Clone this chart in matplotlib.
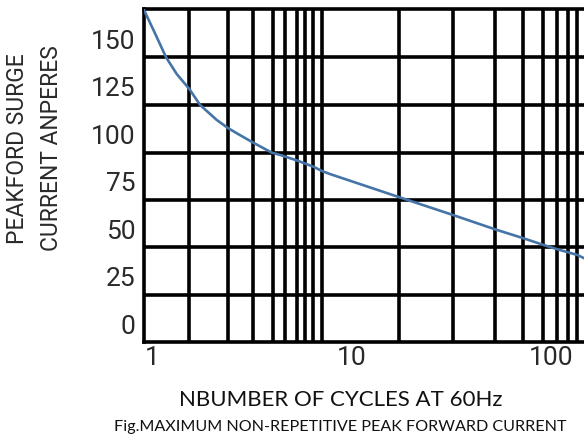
import matplotlib
matplotlib.use("Agg")
import matplotlib.pyplot as plt

# curve (number of cycles, peak surge current in A)
cycles = [0.905, 1.028, 1.168, 1.321, 1.529, 1.730, 2.098, 2.40, 2.747, 3.205,
          3.963, 4.36, 5.33, 6.41, 7.09, 7.78, 17.33, 32.1, 52.4, 72.7,
          91.6, 107.7, 135.7, 146.6]
current = [165.5, 153.2, 140.6, 131.8, 123.9, 115.5, 107.6, 103.2, 99.6, 95.6,
           90.4, 89.2, 86.2, 83.0, 80.7, 79.1, 66.9, 57.6, 50.0, 45.3,
           41.8, 39.5, 36.5, 34.8]

# grid as drawn in the reference (not a clean log grid)
grid_x = [1.529, 2.399, 3.204, 4.010, 4.622, 5.329, 5.825, 6.412, 7.113,
          17.33, 32.13, 52.40, 72.67, 91.57, 107.7, 122.3, 135.7]
grid_y = [15.4, 40.7, 65.5, 90.4, 115.5, 140.6]

x_ticks = [1, 10, 100]
x_labels = ["1", "10", "100"]
y_ticks = [0, 25, 50, 75, 100, 125, 150]

plt.rcParams["font.family"] = ["Roboto", "DejaVu Sans"]
text_font = "Lato"

fig = plt.figure(figsize=(5.84, 4.40), dpi=100)
ax = fig.add_axes([0.2466, 0.2234, 0.7534, 0.7555])

for gx in grid_x:
    ax.axvline(gx, color="black", lw=2.6, zorder=1)
for gy in grid_y:
    ax.axhline(gy, color="black", lw=2.6, zorder=1)

ax.plot(cycles, current, color="#4674a6", lw=1.9, zorder=3)

ax.set_xscale("log")
ax.set_xlim(0.905, 146.6)
ax.set_ylim(-9.2, 165.9)

ax.set_xticks(x_ticks)
ax.set_xticklabels(x_labels)
ax.xaxis.set_minor_locator(matplotlib.ticker.NullLocator())
ax.set_yticks(y_ticks)
ax.tick_params(length=0, labelsize=19, colors="#2a2a2a")
ax.tick_params(axis="x", pad=3)
ax.tick_params(axis="y", pad=6)

for side in ["left", "bottom", "top"]:
    ax.spines[side].set_linewidth(2.6)
    ax.spines[side].set_color("black")
ax.spines["right"].set_visible(False)

fig.text(0.030, 0.663, "PEAKFORD SURGE", rotation=90, ha="center", va="center",
         fontsize=16.5, color="#2a2a2a")
fig.text(0.089, 0.663, "CURRENT ANPERES", rotation=90, ha="center", va="center",
         fontsize=16.5, color="#2a2a2a")

fig.text(0.584, 0.091, "NBUMBER OF CYCLES AT 60Hz", ha="center", va="center",
         fontsize=16, family=text_font, color="#111111")
fig.text(0.582, 0.030, "Fig.MAXIMUM NON-REPETITIVE PEAK FORWARD CURRENT",
         ha="center", va="center", fontsize=11.6, family=text_font, color="#111111")

fig.savefig("out.png", dpi=100)
